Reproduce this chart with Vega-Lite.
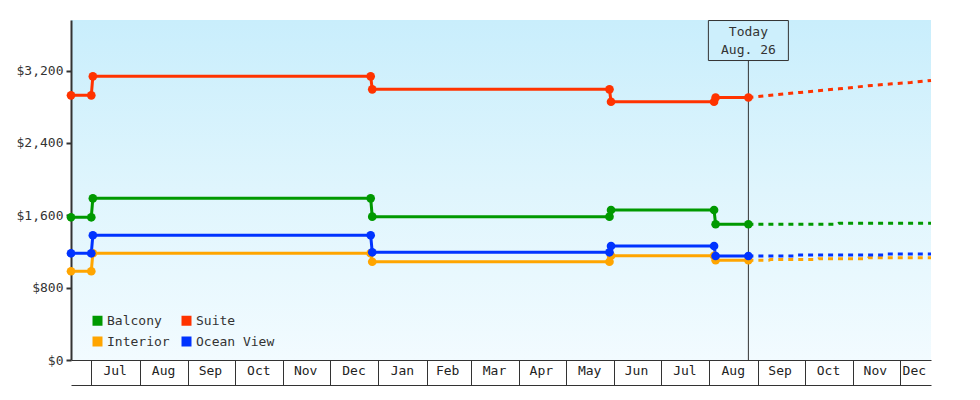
{
  "$schema": "https://vega.github.io/schema/vega-lite/v6.json",
  "width": 860,
  "height": 340,
  "autosize": "none",
  "padding": {"left": 71, "top": 20, "right": 49, "bottom": 40},
  "background": "white",
  "config": {
    "view": {
      "stroke": null,
      "fill": {"gradient": "linear", "x1": 0, "y1": 0, "x2": 0, "y2": 1,
        "stops": [{"offset": 0, "color": "#c9eefc"}, {"offset": 0.5, "color": "#dff5fd"}, {"offset": 1, "color": "#f2fbff"}]}
    },
    "font": "DejaVu Sans Mono",
    "axis": {"labelFont": "DejaVu Sans Mono", "labelFontSize": 13, "labelColor": "#333", "grid": false, "title": null},
    "legend": {"orient": "none", "legendX": 20, "legendY": 294, "direction": "horizontal", "title": null, "columns": 2,
      "symbolType": "square", "symbolSize": 100,
      "symbolStrokeWidth": 0, "labelFont": "DejaVu Sans Mono", "labelFontSize": 13, "labelColor": "#333",
      "padding": 0, "rowPadding": 7, "columnPadding": 10, "labelOffset": 3}
  },
  "datasets": {
    "history": [
      {"series": "Interior", "date": "2013-06-18T00:00", "price": 981},
      {"series": "Interior", "date": "2013-07-01T00:00", "price": 981},
      {"series": "Interior", "date": "2013-07-02T00:00", "price": 1180},
      {"series": "Interior", "date": "2013-12-27T00:00", "price": 1180},
      {"series": "Interior", "date": "2013-12-28T00:00", "price": 1087},
      {"series": "Interior", "date": "2014-05-29T00:00", "price": 1087},
      {"series": "Interior", "date": "2014-05-30T00:00", "price": 1153},
      {"series": "Interior", "date": "2014-08-04T00:00", "price": 1153},
      {"series": "Interior", "date": "2014-08-05T00:00", "price": 1103},
      {"series": "Interior", "date": "2014-08-26T00:00", "price": 1103},
      {"series": "Balcony", "date": "2013-06-18T00:00", "price": 1578},
      {"series": "Balcony", "date": "2013-07-01T00:00", "price": 1578},
      {"series": "Balcony", "date": "2013-07-02T00:00", "price": 1788},
      {"series": "Balcony", "date": "2013-12-27T00:00", "price": 1788},
      {"series": "Balcony", "date": "2013-12-28T00:00", "price": 1585},
      {"series": "Balcony", "date": "2014-05-29T00:00", "price": 1585},
      {"series": "Balcony", "date": "2014-05-30T00:00", "price": 1659},
      {"series": "Balcony", "date": "2014-08-04T00:00", "price": 1659},
      {"series": "Balcony", "date": "2014-08-05T00:00", "price": 1501},
      {"series": "Balcony", "date": "2014-08-26T00:00", "price": 1501},
      {"series": "Ocean View", "date": "2013-06-18T00:00", "price": 1180},
      {"series": "Ocean View", "date": "2013-07-01T00:00", "price": 1180},
      {"series": "Ocean View", "date": "2013-07-02T00:00", "price": 1379},
      {"series": "Ocean View", "date": "2013-12-27T00:00", "price": 1379},
      {"series": "Ocean View", "date": "2013-12-28T00:00", "price": 1191},
      {"series": "Ocean View", "date": "2014-05-29T00:00", "price": 1191},
      {"series": "Ocean View", "date": "2014-05-30T00:00", "price": 1261},
      {"series": "Ocean View", "date": "2014-08-04T00:00", "price": 1261},
      {"series": "Ocean View", "date": "2014-08-05T00:00", "price": 1150},
      {"series": "Ocean View", "date": "2014-08-26T00:00", "price": 1150},
      {"series": "Suite", "date": "2013-06-18T00:00", "price": 2927},
      {"series": "Suite", "date": "2013-07-01T00:00", "price": 2927},
      {"series": "Suite", "date": "2013-07-02T00:00", "price": 3137},
      {"series": "Suite", "date": "2013-12-27T00:00", "price": 3137},
      {"series": "Suite", "date": "2013-12-28T00:00", "price": 2993},
      {"series": "Suite", "date": "2014-05-29T00:00", "price": 2993},
      {"series": "Suite", "date": "2014-05-30T00:00", "price": 2856},
      {"series": "Suite", "date": "2014-08-04T00:00", "price": 2856},
      {"series": "Suite", "date": "2014-08-05T00:00", "price": 2903},
      {"series": "Suite", "date": "2014-08-26T00:00", "price": 2903}
    ],
    "forecast": [
      {"series": "Interior", "date": "2014-08-26T00:00", "price": 1103},
      {"series": "Interior", "date": "2014-09-08T00:00", "price": 1103},
      {"series": "Interior", "date": "2014-09-09T00:00", "price": 1111},
      {"series": "Interior", "date": "2014-10-09T00:00", "price": 1111},
      {"series": "Interior", "date": "2014-10-10T00:00", "price": 1120},
      {"series": "Interior", "date": "2014-11-10T00:00", "price": 1120},
      {"series": "Interior", "date": "2014-11-11T00:00", "price": 1131},
      {"series": "Interior", "date": "2014-12-21T00:00", "price": 1131},
      {"series": "Balcony", "date": "2014-08-26T00:00", "price": 1501},
      {"series": "Balcony", "date": "2014-10-22T00:00", "price": 1501},
      {"series": "Balcony", "date": "2014-10-23T00:00", "price": 1512},
      {"series": "Balcony", "date": "2014-12-21T00:00", "price": 1512},
      {"series": "Ocean View", "date": "2014-08-26T00:00", "price": 1150},
      {"series": "Ocean View", "date": "2014-09-25T00:00", "price": 1150},
      {"series": "Ocean View", "date": "2014-09-26T00:00", "price": 1161},
      {"series": "Ocean View", "date": "2014-11-22T00:00", "price": 1161},
      {"series": "Ocean View", "date": "2014-11-23T00:00", "price": 1172},
      {"series": "Ocean View", "date": "2014-12-21T00:00", "price": 1172},
      {"series": "Suite", "date": "2014-08-26T00:00", "price": 2903},
      {"series": "Suite", "date": "2014-09-28T00:00", "price": 2959},
      {"series": "Suite", "date": "2014-10-23T00:00", "price": 2999},
      {"series": "Suite", "date": "2014-11-13T00:00", "price": 3036},
      {"series": "Suite", "date": "2014-11-26T00:00", "price": 3054},
      {"series": "Suite", "date": "2014-12-08T00:00", "price": 3068},
      {"series": "Suite", "date": "2014-12-21T00:00", "price": 3092}
    ],
    "today": [
      {"date": "2014-08-26T00:00", "label": "Today\nAug. 26", "boxPrice": 3533}
    ]
  },
  "resolve": {"scale": {"x": "shared", "y": "shared", "color": "shared"}, "axis": {"x": "independent"}},
  "layer": [
    {
      "data": {"name": "today"},
      "mark": {"type": "rule", "color": "#333", "strokeWidth": 1},
      "encoding": {
        "x": {"field": "date", "type": "temporal", "axis": null,
          "scale": {"domain": [{"year": 2013, "month": 6, "date": 18}, {"year": 2014, "month": 12, "date": 21}]}}
      }
    },
    {
      "data": {"name": "history"},
      "mark": {"type": "line", "strokeWidth": 3, "interpolate": "linear"},
      "encoding": {
        "x": {"field": "date", "type": "temporal",
          "axis": {"orient": "bottom", "labels": false, "tickSize": 25, "tickColor": "#333", "tickWidth": 1,
            "domainColor": "#333", "domainWidth": 1,
            "values": [
              {"year": 2013, "month": 7, "date": 1}, {"year": 2013, "month": 8, "date": 1}, {"year": 2013, "month": 9, "date": 1},
              {"year": 2013, "month": 10, "date": 1}, {"year": 2013, "month": 11, "date": 1}, {"year": 2013, "month": 12, "date": 1},
              {"year": 2014, "month": 1, "date": 1}, {"year": 2014, "month": 2, "date": 1}, {"year": 2014, "month": 3, "date": 1},
              {"year": 2014, "month": 4, "date": 1}, {"year": 2014, "month": 5, "date": 1}, {"year": 2014, "month": 6, "date": 1},
              {"year": 2014, "month": 7, "date": 1}, {"year": 2014, "month": 8, "date": 1}, {"year": 2014, "month": 9, "date": 1},
              {"year": 2014, "month": 10, "date": 1}, {"year": 2014, "month": 11, "date": 1}, {"year": 2014, "month": 12, "date": 1}
            ]}},
        "y": {"field": "price", "type": "quantitative",
          "scale": {"domain": [0, 3760], "nice": false, "zero": true},
          "axis": {"values": [0, 800, 1600, 2400, 3200], "format": "$,.0f", "tickSize": 5, "tickWidth": 2, "tickColor": "#333",
            "domainColor": "#333", "domainWidth": 2, "labelPadding": 3}},
        "color": {"field": "series", "type": "nominal",
          "scale": {"domain": ["Balcony", "Suite", "Interior", "Ocean View"], "range": ["#009900", "#ff3300", "#ffa500", "#0033ff"]}}
      }
    },
    {
      "data": {"name": "forecast"},
      "mark": {"type": "line", "strokeWidth": 3, "strokeDash": [5, 5], "strokeCap": "butt"},
      "encoding": {
        "x": {"field": "date", "type": "temporal",
          "axis": {"orient": "bottom", "offset": 25, "labels": false, "ticks": false, "domainColor": "#333", "domainWidth": 1}},
        "y": {"field": "price", "type": "quantitative"},
        "color": {"field": "series", "type": "nominal"}
      }
    },
    {
      "data": {"name": "history"},
      "mark": {"type": "point", "filled": true, "shape": "circle", "size": 75, "opacity": 1},
      "encoding": {
        "x": {"field": "date", "type": "temporal",
          "axis": {"orient": "bottom", "ticks": false, "tickSize": 0, "domain": false, "labelPadding": 4,
            "labelColor": "#222", "labelOverlap": false, "labelFlush": false, "labelBound": false,
            "labelExpr": "timeFormat(datum.value, '%b')",
            "values": [
              {"year": 2013, "month": 7, "date": 16}, {"year": 2013, "month": 8, "date": 16}, {"year": 2013, "month": 9, "date": 15},
              {"year": 2013, "month": 10, "date": 16}, {"year": 2013, "month": 11, "date": 15}, {"year": 2013, "month": 12, "date": 16},
              {"year": 2014, "month": 1, "date": 16}, {"year": 2014, "month": 2, "date": 14}, {"year": 2014, "month": 3, "date": 16},
              {"year": 2014, "month": 4, "date": 15}, {"year": 2014, "month": 5, "date": 16}, {"year": 2014, "month": 6, "date": 15},
              {"year": 2014, "month": 7, "date": 16}, {"year": 2014, "month": 8, "date": 16}, {"year": 2014, "month": 9, "date": 15},
              {"year": 2014, "month": 10, "date": 16}, {"year": 2014, "month": 11, "date": 15}, {"year": 2014, "month": 12, "date": 10}
            ]}},
        "y": {"field": "price", "type": "quantitative"},
        "color": {"field": "series", "type": "nominal"}
      }
    },
    {
      "data": {"name": "today"},
      "mark": {"type": "point", "shape": "M-1,-0.5H1V0.5H-1Z", "size": 6400, "filled": true, "fill": "#cdeffc",
        "stroke": "#333", "strokeWidth": 1, "opacity": 1},
      "encoding": {
        "x": {"field": "date", "type": "temporal", "axis": null},
        "y": {"field": "boxPrice", "type": "quantitative"}
      }
    },
    {
      "data": {"name": "today"},
      "mark": {"type": "text", "lineBreak": "\n", "lineHeight": 18, "fontSize": 13, "font": "DejaVu Sans Mono",
        "align": "center", "baseline": "middle", "dy": -9, "color": "#333"},
      "encoding": {
        "x": {"field": "date", "type": "temporal", "axis": null},
        "y": {"field": "boxPrice", "type": "quantitative"},
        "text": {"field": "label"}
      }
    }
  ]
}
